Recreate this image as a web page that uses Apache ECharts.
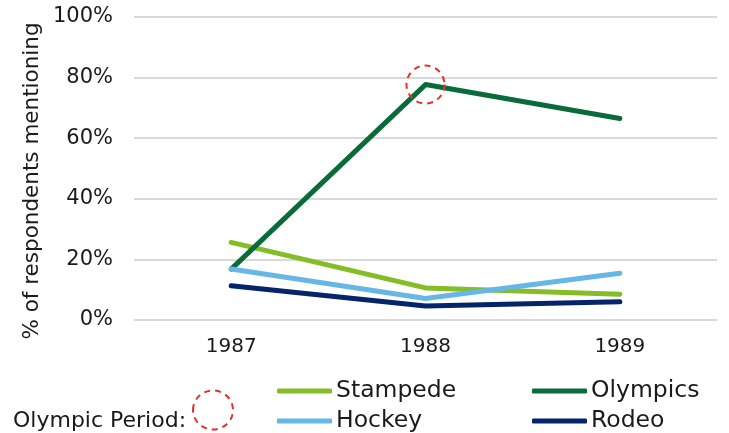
<!DOCTYPE html>
<html>
<head>
<meta charset="utf-8">
<script src="https://cdn.jsdelivr.net/npm/echarts@6/dist/echarts.min.js"></script>
<style>html,body{margin:0;padding:0;background:#fff}#c{width:729px;height:433px}</style>
</head>
<body>
<div id="c"></div>
<script>
const years = ['1987', '1988', '1989'];
const stampede = [25.6, 10.6, 8.5];
const olympics = [16.8, 77.7, 66.5];
const hockey = [16.8, 7.1, 15.4];
const rodeo = [11.3, 4.6, 6.0];
const yTicks = [0, 20, 40, 60, 80, 100];
const highlightYear = '1988';
const yAxisTitle = '% of respondents mentioning';
const periodLabel = 'Olympic Period:';

const FONT = 'DejaVu Sans';
const TXT = '#1a1a1a';
const colors = { Stampede: '#84BD26', Olympics: '#0A6B3A', Hockey: '#66B6E6', Rodeo: '#04246B' };

function mkSeries(name, data, extra) {
  return Object.assign({
    name: name, type: 'line', data: data, symbol: 'none',
    color: colors[name],
    lineStyle: { width: 5, color: colors[name], cap: 'round', join: 'round' }
  }, extra || {});
}
function mkLegend(name, left, top) {
  return {
    data: [name], left: left, top: top, padding: 0, itemGap: 0,
    icon: 'roundRect', itemWidth: 55, itemHeight: 5, selectedMode: false,
    textStyle: { fontFamily: FONT, fontSize: 23.5, color: TXT, lineHeight: 26, padding: [0, 0, 0, -1] }
  };
}

const chart = echarts.init(document.getElementById('c'), null, { renderer: 'canvas' });
chart.setOption({
  animation: false,
  grid: { left: 134, right: 12, top: 17, bottom: 113 },
  xAxis: {
    type: 'category', data: years, boundaryGap: true,
    axisLine: { show: false }, axisTick: { show: false },
    axisLabel: { fontFamily: FONT, fontSize: 20, color: TXT, margin: 17 }
  },
  yAxis: {
    type: 'value', min: yTicks[0], max: yTicks[yTicks.length - 1], interval: 20,
    axisLine: { show: false }, axisTick: { show: false },
    axisLabel: { fontFamily: FONT, fontSize: 21, color: TXT, margin: 21, formatter: '{value}%' },
    splitLine: { lineStyle: { color: '#D9D9D9', width: 2 } }
  },
  legend: [
    mkLegend('Stampede', 277, 378),
    mkLegend('Olympics', 532, 378),
    mkLegend('Hockey', 277, 408),
    mkLegend('Rodeo', 532, 408)
  ],
  series: [
    mkSeries('Stampede', stampede),
    mkSeries('Olympics', olympics, {
      markPoint: {
        symbol: 'circle', symbolSize: 38, silent: true,
        label: { show: false },
        itemStyle: { color: 'rgba(0,0,0,0)', borderColor: '#E0332B', borderWidth: 2, borderType: [6, 5] },
        data: [{ coord: [highlightYear, olympics[years.indexOf(highlightYear)]] }]
      }
    }),
    mkSeries('Hockey', hockey),
    mkSeries('Rodeo', rodeo)
  ],
  graphic: [
    {
      type: 'text', x: 32, y: 181, rotation: Math.PI / 2,
      style: { text: yAxisTitle, fontFamily: FONT, fontSize: 21.5, fill: TXT, align: 'center', verticalAlign: 'middle' }
    },
    {
      type: 'text', x: 13, y: 421,
      style: { text: periodLabel, fontFamily: FONT, fontSize: 22, fill: TXT, align: 'left', verticalAlign: 'middle' }
    },
    {
      type: 'ellipse', shape: { cx: 213, cy: 410, rx: 20, ry: 19.5 },
      style: { fill: 'none', stroke: '#E0332B', lineWidth: 2, lineDash: [6, 5] }
    }
  ]
});
</script>
</body>
</html>
